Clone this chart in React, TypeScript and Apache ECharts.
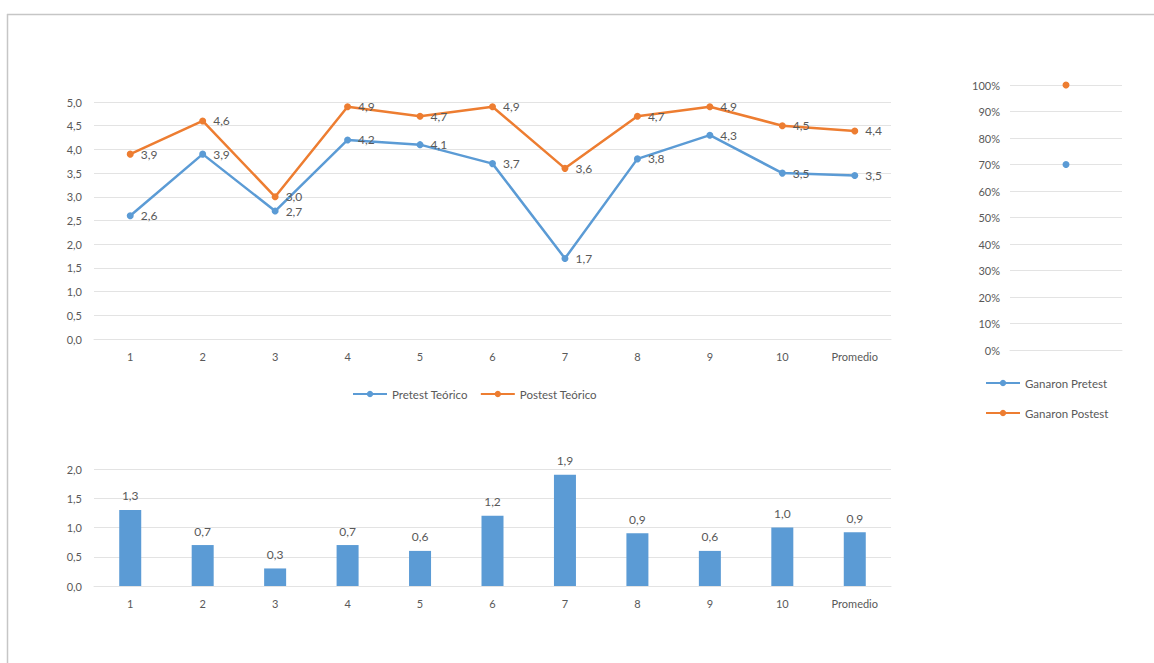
import React, { useEffect, useRef } from "react";
import * as echarts from "echarts";

const categories = ["1", "2", "3", "4", "5", "6", "7", "8", "9", "10", "Promedio"];
const pretest = [2.6, 3.9, 2.7, 4.2, 4.1, 3.7, 1.7, 3.8, 4.3, 3.5, 3.45];
const postest = [3.9, 4.6, 3.0, 4.9, 4.7, 4.9, 3.6, 4.7, 4.9, 4.5, 4.39];
const difference = [1.3, 0.7, 0.3, 0.7, 0.6, 1.2, 1.9, 0.9, 0.6, 1.0, 0.92];
const winCategories = [""];
const ganaronPretest = [0.7];
const ganaronPostest = [1.0];

const BLUE = "#5B9BD5";
const ORANGE = "#ED7D31";
const TEXT = "#595959";
const GRID = "#e3e3e3";
const FONT = "Lato, 'Open Sans', sans-serif";

const comma = (v: number) => v.toFixed(1).replace(".", ",");

export default function App() {
  const ref = useRef<HTMLDivElement>(null);
  useEffect(() => {
    if (!ref.current) return;
    const chart = echarts.init(ref.current, undefined, { renderer: "svg" });
    const axisLabel = { color: TEXT, fontSize: 11, fontFamily: FONT };
    const valueLabel = {
      show: true,
      color: TEXT,
      fontSize: 12,
      fontFamily: FONT,
      formatter: (p: any) => comma(p.value),
    };
    chart.setOption({
      animation: false,
      textStyle: { fontFamily: FONT },
      graphic: [
        { type: "line", shape: { x1: 7, y1: 14.5, x2: 1154, y2: 14.5 }, style: { stroke: "#c6c6c6", lineWidth: 1.5 } },
        { type: "line", shape: { x1: 7.5, y1: 14, x2: 7.5, y2: 663 }, style: { stroke: "#c6c6c6", lineWidth: 1.5 } },
      ],
      grid: [
        { left: 94, right: 263, top: 102, bottom: 324 },
        { left: 94, right: 263, top: 469, bottom: 77 },
        { left: 1010, right: 32, top: 85, bottom: 313 },
      ],
      legend: [
        {
          data: ["Pretest Teórico", "Postest Teórico"],
          left: 347,
          top: 383,
          itemWidth: 34,
          itemHeight: 8,
          itemGap: 12,
          textStyle: { color: TEXT, fontSize: 11.5, fontFamily: FONT },
        },
        {
          data: ["Ganaron Pretest", "Ganaron Postest"],
          orient: "vertical",
          left: 980,
          top: 372,
          itemWidth: 34,
          itemHeight: 8,
          itemGap: 18,
          textStyle: { color: TEXT, fontSize: 11.5, fontFamily: FONT },
        },
      ],
      xAxis: [
        {
          type: "category",
          gridIndex: 0,
          data: categories,
          boundaryGap: true,
          axisLine: { show: true, lineStyle: { color: GRID } },
          axisTick: { show: false },
          axisLabel: { ...axisLabel, margin: 12 },
        },
        {
          type: "category",
          gridIndex: 1,
          data: categories,
          boundaryGap: true,
          axisLine: { show: true, lineStyle: { color: GRID } },
          axisTick: { show: false },
          axisLabel: { ...axisLabel, margin: 12 },
        },
        {
          type: "category",
          gridIndex: 2,
          data: winCategories,
          boundaryGap: true,
          axisLine: { show: true, lineStyle: { color: GRID } },
          axisTick: { show: false },
          axisLabel: { show: false },
        },
      ],
      yAxis: [
        {
          type: "value",
          gridIndex: 0,
          min: 0,
          max: 5,
          interval: 0.5,
          axisLine: { show: false },
          axisTick: { show: false },
          splitLine: { lineStyle: { color: GRID } },
          axisLabel: { ...axisLabel, margin: 12, formatter: (v: number) => comma(v) },
        },
        {
          type: "value",
          gridIndex: 1,
          min: 0,
          max: 2,
          interval: 0.5,
          axisLine: { show: false },
          axisTick: { show: false },
          splitLine: { lineStyle: { color: GRID } },
          axisLabel: { ...axisLabel, margin: 12, formatter: (v: number) => comma(v) },
        },
        {
          type: "value",
          gridIndex: 2,
          min: 0,
          max: 1,
          interval: 0.1,
          axisLine: { show: false },
          axisTick: { show: false },
          splitLine: { lineStyle: { color: GRID } },
          axisLabel: { ...axisLabel, margin: 10, formatter: (v: number) => Math.round(v * 100) + "%" },
        },
      ],
      series: [
        {
          name: "Pretest Teórico",
          type: "line",
          xAxisIndex: 0,
          yAxisIndex: 0,
          data: pretest,
          color: BLUE,
          symbol: "circle",
          symbolSize: 7,
          lineStyle: { width: 2.5, color: BLUE },
          label: { ...valueLabel, position: "right", distance: 7 },
        },
        {
          name: "Postest Teórico",
          type: "line",
          xAxisIndex: 0,
          yAxisIndex: 0,
          data: postest,
          color: ORANGE,
          symbol: "circle",
          symbolSize: 7,
          lineStyle: { width: 2.5, color: ORANGE },
          label: { ...valueLabel, position: "right", distance: 7 },
        },
        {
          name: "Diferencia",
          type: "bar",
          xAxisIndex: 1,
          yAxisIndex: 1,
          data: difference,
          barWidth: 22,
          itemStyle: { color: BLUE },
          label: { ...valueLabel, position: "top", distance: 8 },
        },
        {
          name: "Ganaron Pretest",
          type: "line",
          xAxisIndex: 2,
          yAxisIndex: 2,
          data: ganaronPretest,
          color: BLUE,
          symbol: "circle",
          symbolSize: 7,
          lineStyle: { width: 2.5, color: BLUE },
        },
        {
          name: "Ganaron Postest",
          type: "line",
          xAxisIndex: 2,
          yAxisIndex: 2,
          data: ganaronPostest,
          color: ORANGE,
          symbol: "circle",
          symbolSize: 7,
          lineStyle: { width: 2.5, color: ORANGE },
        },
      ],
    });
    return () => chart.dispose();
  }, []);
  return (
    <div
      ref={ref}
      style={{ position: "absolute", left: 0, top: 0, width: 1154, height: 663, background: "#fff" }}
    />
  );
}
